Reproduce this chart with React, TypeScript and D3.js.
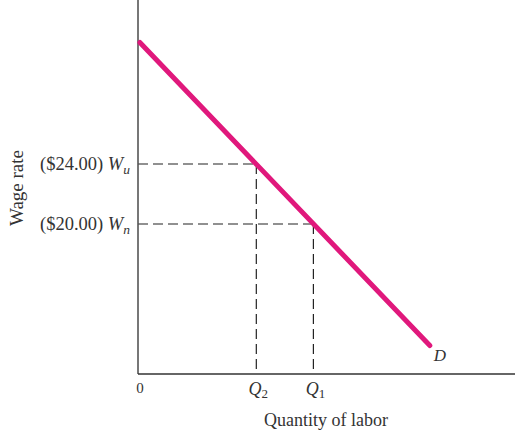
import React from "react";
import * as d3 from "d3";

const wageLevels = [24, 20];
const wageLabels = ["($24.00) ", "($20.00) "];
const wageSubs = ["u", "n"];
const quantityLevels = [31.3, 46.4];
const quantitySubs = ["2", "1"];
const demandQ = [0.5, 77.2];
const demandW = [32.1, 11.9];

const W = 532;
const H = 435;

export default function App() {
  const x = d3.scaleLinear().domain([0, 100]).range([138, 516]);
  const y = d3.scaleLinear().domain([10, 35]).range([374, -1]);
  const x0 = x(0);
  const y0 = y(10);
  const line = d3
    .line<number>()
    .x((_, i) => x(demandQ[i]))
    .y((d) => y(d));
  const font = "'Liberation Serif', 'Times New Roman', serif";
  const magenta = "#e0187c";
  return (
    <svg
      width={W}
      height={H}
      style={{ position: "absolute", left: 0, top: 0, background: "#fff" }}
      fontFamily={font}
    >
      {wageLevels.map((w, i) => (
        <g key={"g" + i}>
          <line
            x1={x0}
            x2={x(quantityLevels[i])}
            y1={y(w)}
            y2={y(w)}
            stroke="#222"
            strokeWidth={1.2}
            strokeDasharray="10,5"
          />
          <line
            x1={x(quantityLevels[i])}
            x2={x(quantityLevels[i])}
            y1={y(w)}
            y2={y0}
            stroke="#222"
            strokeWidth={1.2}
            strokeDasharray="10,5"
          />
          <text
            x={x0 - 8}
            y={y(w) + 6}
            textAnchor="end"
            fontSize={18.5}
            fill="#333"
          >
            {wageLabels[i]}
            <tspan fontStyle="italic">W</tspan>
            <tspan fontStyle="italic" fontSize={13.5} dy={4}>
              {wageSubs[i]}
            </tspan>
          </text>
          <text
            x={x(quantityLevels[i]) + 2}
            y={y0 + 21}
            textAnchor="middle"
            fontSize={18}
            fill="#333"
          >
            <tspan fontStyle="italic">Q</tspan>
            <tspan fontSize={13} dy={3}>
              {quantitySubs[i]}
            </tspan>
          </text>
        </g>
      ))}
      <line x1={x0} x2={x0} y1={0} y2={y0} stroke="#555" strokeWidth={1.6} />
      <line x1={x0} x2={515} y1={y0} y2={y0} stroke="#333" strokeWidth={1.4} />
      <path
        d={line(demandW) || ""}
        fill="none"
        stroke={magenta}
        strokeWidth={5}
        strokeLinecap="round"
      />
      <text
        x={x(demandQ[1]) + 4}
        y={y(demandW[1]) + 15}
        fontSize={17}
        fontStyle="italic"
        fill="#333"
      >
        D
      </text>
      <text x={x0 + 2} y={y0 + 19} fontSize={15} textAnchor="middle" fill="#333">
        0
      </text>
      <text x={326} y={426} fontSize={18} textAnchor="middle" fill="#333">
        Quantity of labor
      </text>
      <text
        transform={`translate(23,${y(22.4)}) rotate(-90)`}
        fontSize={19}
        textAnchor="middle"
        fill="#333"
      >
        Wage rate
      </text>
    </svg>
  );
}
